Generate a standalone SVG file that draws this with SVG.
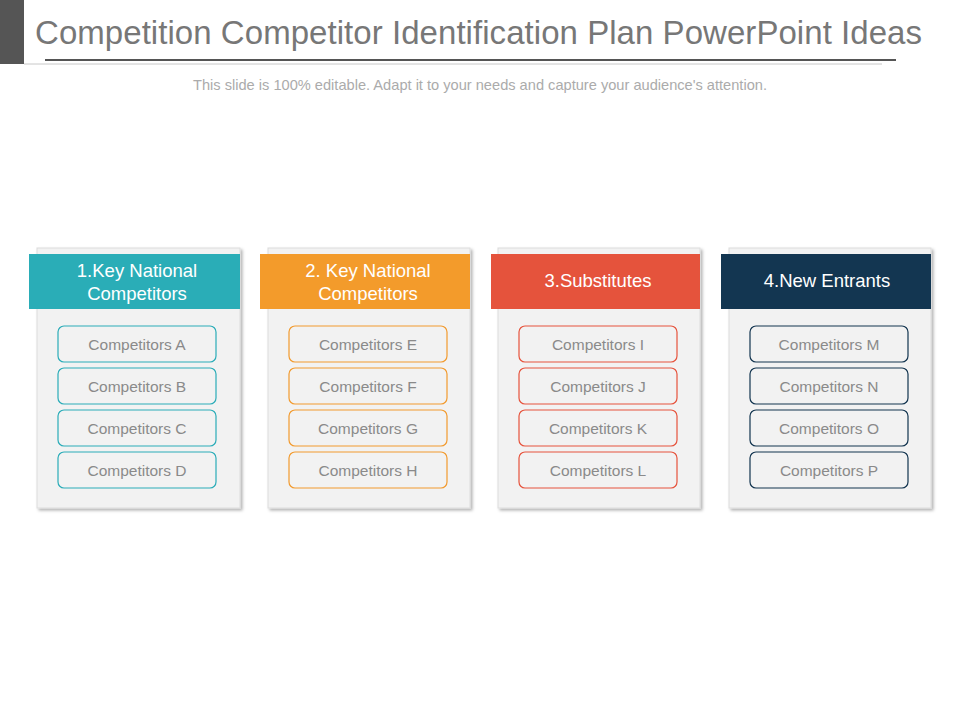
<svg xmlns="http://www.w3.org/2000/svg" width="960" height="720" viewBox="0 0 960 720">
<defs>
<filter id="sh" x="-10%" y="-10%" width="130%" height="130%">
<feDropShadow dx="2" dy="2" stdDeviation="1.5" flood-color="#000" flood-opacity="0.3"/>
</filter>
</defs>
<style>
.title{font-family:"Liberation Sans",Arial,sans-serif;font-size:33px;fill:#777777}
.sub{font-family:"Liberation Sans",Arial,sans-serif;font-size:14.5px;fill:#ababab}
.panel{fill:#f2f2f2;stroke:#dcdcdc;stroke-width:1}
.hd{font-family:"Liberation Sans",Arial,sans-serif;font-size:18.5px;fill:#ffffff;text-anchor:middle}
.it{font-family:"Liberation Sans",Arial,sans-serif;font-size:15.5px;fill:#8a8a8a;text-anchor:middle}
.box{fill:#f2f2f2;stroke-width:1.2}
.c1{stroke:#2aacb8}.c2{stroke:#f29a2e}.c3{stroke:#e6533c}.c4{stroke:#12344f}
</style>
<rect width="960" height="720" fill="#ffffff"/>
<g id="header">
<rect x="0" y="0" width="24" height="64" fill="#555555"/>
<text class="title" x="35" y="44" textLength="887" lengthAdjust="spacing">Competition Competitor Identification Plan PowerPoint Ideas</text>
<line x1="45" y1="60" x2="896" y2="60" stroke="#555555" stroke-width="2"/>
<line x1="24" y1="64" x2="882" y2="64" stroke="#c8c8c8" stroke-width="1"/>
<text class="sub" x="480" y="90" text-anchor="middle" textLength="574" lengthAdjust="spacingAndGlyphs">This slide is 100% editable. Adapt it to your needs and capture your audience's attention.</text>
</g>
<g id="col1">
<rect class="panel" x="37" y="248" width="203" height="260" filter="url(#sh)"/>
<rect x="29" y="254" width="211" height="55" fill="#2aadb7"/>
<text class="hd" x="137" y="277">1.Key National</text>
<text class="hd" x="137" y="300">Competitors</text>
<rect class="box c1" x="58" y="326" width="158" height="36" rx="6"/><text class="it" x="137" y="350">Competitors A</text>
<rect class="box c1" x="58" y="368" width="158" height="36" rx="6"/><text class="it" x="137" y="392">Competitors B</text>
<rect class="box c1" x="58" y="410" width="158" height="36" rx="6"/><text class="it" x="137" y="434">Competitors C</text>
<rect class="box c1" x="58" y="452" width="158" height="36" rx="6"/><text class="it" x="137" y="476">Competitors D</text>
</g>
<g id="col2">
<rect class="panel" x="268" y="248" width="202" height="260" filter="url(#sh)"/>
<rect x="260" y="254" width="210" height="55" fill="#f39b2b"/>
<text class="hd" x="368" y="277">2. Key National</text>
<text class="hd" x="368" y="300">Competitors</text>
<rect class="box c2" x="289" y="326" width="158" height="36" rx="6"/><text class="it" x="368" y="350">Competitors E</text>
<rect class="box c2" x="289" y="368" width="158" height="36" rx="6"/><text class="it" x="368" y="392">Competitors F</text>
<rect class="box c2" x="289" y="410" width="158" height="36" rx="6"/><text class="it" x="368" y="434">Competitors G</text>
<rect class="box c2" x="289" y="452" width="158" height="36" rx="6"/><text class="it" x="368" y="476">Competitors H</text>
</g>
<g id="col3">
<rect class="panel" x="498" y="248" width="202" height="260" filter="url(#sh)"/>
<rect x="491" y="254" width="209" height="55" fill="#e5533c"/>
<text class="hd" x="598" y="287">3.Substitutes</text>
<rect class="box c3" x="519" y="326" width="158" height="36" rx="6"/><text class="it" x="598" y="350">Competitors I</text>
<rect class="box c3" x="519" y="368" width="158" height="36" rx="6"/><text class="it" x="598" y="392">Competitors J</text>
<rect class="box c3" x="519" y="410" width="158" height="36" rx="6"/><text class="it" x="598" y="434">Competitors K</text>
<rect class="box c3" x="519" y="452" width="158" height="36" rx="6"/><text class="it" x="598" y="476">Competitors L</text>
</g>
<g id="col4">
<rect class="panel" x="729" y="248" width="202" height="260" filter="url(#sh)"/>
<rect x="721" y="254" width="210" height="55" fill="#133651"/>
<text class="hd" x="827" y="287">4.New Entrants</text>
<rect class="box c4" x="750" y="326" width="158" height="36" rx="6"/><text class="it" x="829" y="350">Competitors M</text>
<rect class="box c4" x="750" y="368" width="158" height="36" rx="6"/><text class="it" x="829" y="392">Competitors N</text>
<rect class="box c4" x="750" y="410" width="158" height="36" rx="6"/><text class="it" x="829" y="434">Competitors O</text>
<rect class="box c4" x="750" y="452" width="158" height="36" rx="6"/><text class="it" x="829" y="476">Competitors P</text>
</g>
<g id="connectors"></g>
</svg>
